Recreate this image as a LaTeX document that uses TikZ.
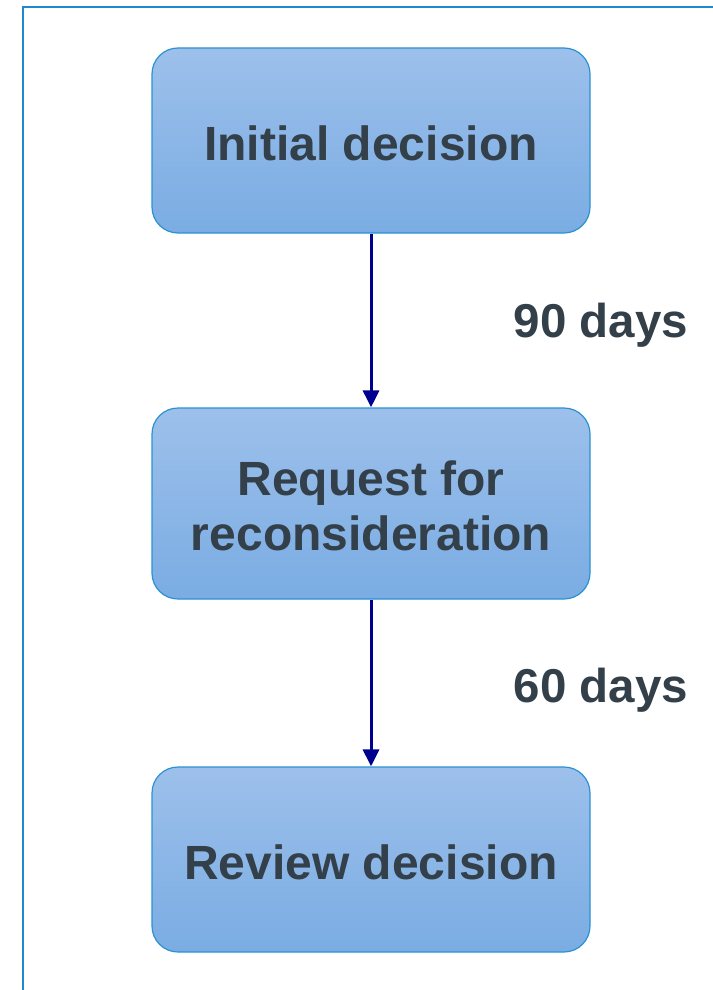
\documentclass[tikz,border=0pt]{standalone}
\usepackage{fontspec}
\setmainfont{Liberation Sans}
\usetikzlibrary{arrows.meta}
\definecolor{frameblue}{HTML}{1E8ACD}
\definecolor{boxtop}{HTML}{9DC0EB}
\definecolor{boxbot}{HTML}{7AACE3}
\definecolor{boxline}{HTML}{2A92D2}
\definecolor{arrowblue}{HTML}{00008F}
\definecolor{txt}{HTML}{333F49}
\begin{document}
\begin{tikzpicture}[x=1pt,y=-1pt,
  stepbox/.style={draw=boxline, line width=1.2pt, rounded corners=26pt,
    top color=boxtop, bottom color=boxbot, minimum width=438pt,
    text=txt, font=\fontsize{48}{55}\selectfont\bfseries, align=center, inner sep=0pt},
  link/.style={draw=arrowblue, line width=3pt, -{Triangle[length=17pt,width=16pt]}},
  daylabel/.style={text=txt, font=\fontsize{47.5}{55}\selectfont\bfseries, inner sep=0pt}]
\useasboundingbox (0,0) rectangle (712,990);
\draw[frameblue, line width=2pt] (23,1000) -- (23,7) -- (720,7);
\node[stepbox, minimum height=185pt, text height=40pt, text depth=0pt] (a) at (371,140.5) {Initial decision};
\node[stepbox, minimum height=191pt] (b) at (371,503.5) {\strut Request for\\reconsideration};
\node[stepbox, minimum height=185pt, text height=40pt, text depth=0pt] (c) at (371,859.5) {Review decision};
\draw[link] (a) -- (b);
\draw[link] (b) -- (c);
\node[daylabel] (l1) at (601,325) {90 days};
\node[daylabel] (l2) at (601,690) {60 days};
\end{tikzpicture}
\end{document}
